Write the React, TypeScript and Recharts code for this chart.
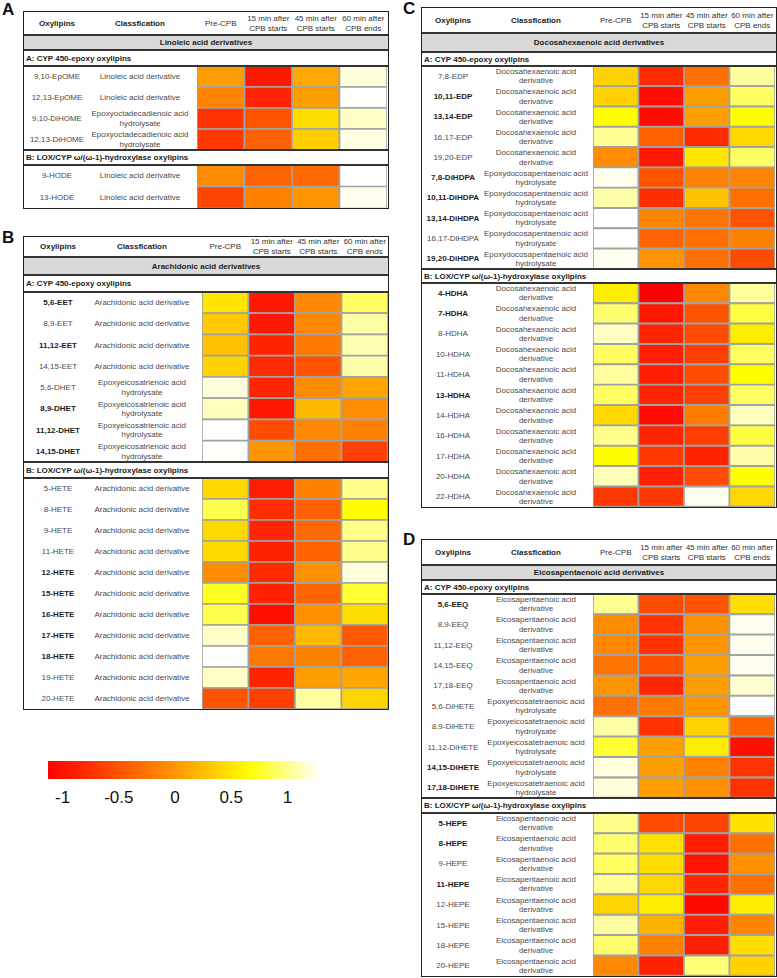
import React from "react";
import { BarChart, Bar, XAxis, YAxis, Cell, ComposedChart, ReferenceArea } from "recharts";

const FONT = "'Liberation Sans', Arial, Helvetica, sans-serif";

// ---------- shared labels ----------
const timepoints = ["Pre-CPB", "15 min after\nCPB starts", "45 min after\nCPB starts", "60 min after\nCPB ends"];
const sectionA = "A: CYP 450-epoxy oxylipins";
const sectionB = "B: LOX/CYP \u03c9/(\u03c9-1)-hydroxylase oxylipins";
const colorbarTicks = [-1, -0.5, 0, 0.5, 1];
const colorbarDomain = [-1.13, 1.29];

// ---------- Panel A: Linoleic acid ----------
const laEpoxyNames = ["9,10-EpOME", "12,13-EpOME", "9,10-DiHOME", "12,13-DiHOME"];
const laEpoxyClass = ["Linoleic acid derivative", "Linoleic acid derivative", "Epoxyoctadecadienoic acid\nhydrolysate", "Epoxyoctadecadienoic acid\nhydrolysate"];
const laEpoxyBold = [false, false, false, false];
const laEpoxyValues = [
  [0.05, -0.95, 0.12, 1.2],
  [-0.12, -0.85, 0.05, 1.29],
  [-0.75, -0.5, 0.45, 1.15],
  [-0.7, -0.4, 0.35, 1.22],
];
const laHydroxyNames = ["9-HODE", "13-HODE"];
const laHydroxyClass = ["Linoleic acid derivative", "Linoleic acid derivative"];
const laHydroxyBold = [false, false];
const laHydroxyValues = [
  [-0.08, -0.37, -0.33, 1.29],
  [-0.6, -0.15, 0.0, 1.25],
];

// ---------- Panel B: Arachidonic acid ----------
const aaEpoxyNames = ["5,6-EET", "8,9-EET", "11,12-EET", "14,15-EET", "5,6-DHET", "8,9-DHET", "11,12-DHET", "14,15-DHET"];
const aaEpoxyClass = [
  "Arachidonic acid derivative", "Arachidonic acid derivative", "Arachidonic acid derivative", "Arachidonic acid derivative",
  "Epoxyeicosatrienoic acid\nhydrolysate", "Epoxyeicosatrienoic acid\nhydrolysate", "Epoxyeicosatrienoic acid\nhydrolysate", "Epoxyeicosatrienoic acid\nhydrolysate",
];
const aaEpoxyBold = [true, false, true, false, false, true, true, true];
const aaEpoxyValues = [
  [0.5, -0.95, -0.1, 0.9],
  [0.32, -0.95, -0.1, 1.07],
  [0.28, -0.85, -0.2, 1.1],
  [0.38, -0.8, -0.5, 1.08],
  [1.2, -0.85, -0.07, 0.1],
  [1.13, -0.95, 0.22, -0.07],
  [1.29, -0.55, -0.1, -0.15],
  [1.28, 0.0, -0.28, -0.65],
];
const aaHydroxyNames = ["5-HETE", "8-HETE", "9-HETE", "11-HETE", "12-HETE", "15-HETE", "16-HETE", "17-HETE", "18-HETE", "19-HETE", "20-HETE"];
const aaHydroxyClass = aaHydroxyNames.map(() => "Arachidonic acid derivative");
const aaHydroxyBold = [false, false, false, false, true, true, true, true, true, false, false];
const aaHydroxyValues = [
  [0.42, -0.9, -0.15, 1.0],
  [0.85, -0.78, -0.4, 0.66],
  [0.42, -0.85, -0.35, 1.0],
  [0.42, -0.88, -0.37, 1.0],
  [-0.07, -0.8, -0.04, 1.2],
  [0.75, -0.88, -0.37, 0.78],
  [0.85, -1.0, -0.04, 0.45],
  [1.15, -0.4, 0.22, -0.45],
  [1.29, -0.22, -0.15, -0.4],
  [1.15, -0.85, 0.05, 0.1],
  [-0.5, -0.65, 1.05, 0.4],
];

// ---------- Panel C: Docosahexaenoic acid ----------
const dhaEpoxyNames = ["7,8-EDP", "10,11-EDP", "13,14-EDP", "16,17-EDP", "19,20-EDP", "7,8-DiHDPA", "10,11-DiHDPA", "13,14-DiHDPA", "16,17-DiHDPA", "19,20-DiHDPA"];
const dhaEpoxyClass = [
  "Docosahexaenoic acid\nderivative", "Docosahexaenoic acid\nderivative", "Docosahexaenoic acid\nderivative", "Docosahexaenoic acid\nderivative", "Docosahexaenoic acid\nderivative",
  "Epoxydocosapentaenoic acid\nhydrolysate", "Epoxydocosapentaenoic acid\nhydrolysate", "Epoxydocosapentaenoic acid\nhydrolysate", "Epoxydocosapentaenoic acid\nhydrolysate", "Epoxydocosapentaenoic acid\nhydrolysate",
];
const dhaEpoxyBold = [false, true, true, false, false, true, true, true, false, true];
const dhaEpoxyValues = [
  [0.38, -0.8, -0.28, 1.05],
  [0.38, -1.02, 0.05, 0.9],
  [0.66, -1.02, 0.05, 0.66],
  [1.02, -0.4, -0.8, 0.42],
  [-0.07, -0.95, 0.52, 0.9],
  [1.25, -0.5, -0.15, -0.12],
  [1.08, -0.78, 0.28, -0.28],
  [1.29, -0.12, -0.25, -0.5],
  [1.28, -0.37, -0.28, -0.15],
  [1.25, -0.02, -0.28, -0.55],
];
const dhaHydroxyNames = ["4-HDHA", "7-HDHA", "8-HDHA", "10-HDHA", "11-HDHA", "13-HDHA", "14-HDHA", "16-HDHA", "17-HDHA", "20-HDHA", "22-HDHA"];
const dhaHydroxyClass = dhaHydroxyNames.map(() => "Docosahexaenoic acid\nderivative");
const dhaHydroxyBold = [true, true, false, false, false, true, false, false, false, false, false];
const dhaHydroxyValues = [
  [0.55, -1.13, -0.1, 1.05],
  [0.93, -0.95, -0.5, 0.82],
  [1.15, -0.85, -0.55, 0.55],
  [0.9, -0.9, -0.65, 0.9],
  [1.05, -0.9, -0.55, 0.66],
  [0.9, -0.85, -0.65, 0.9],
  [0.42, -1.05, -0.18, 1.13],
  [1.0, -0.85, -0.65, 0.82],
  [0.66, -0.7, -0.85, 1.08],
  [1.12, -0.88, -0.55, 0.66],
  [-0.7, -0.7, 1.25, 0.42],
];

// ---------- Panel D: Eicosapentaenoic acid ----------
const epaEpoxyNames = ["5,6-EEQ", "8,9-EEQ", "11,12-EEQ", "14,15-EEQ", "17,18-EEQ", "5,6-DiHETE", "8,9-DiHETE", "11,12-DiHETE", "14,15-DiHETE", "17,18-DiHETE"];
const epaEpoxyClass = [
  "Eicosapentaenoic acid\nderivative", "Eicosapentaenoic acid\nderivative", "Eicosapentaenoic acid\nderivative", "Eicosapentaenoic acid\nderivative", "Eicosapentaenoic acid\nderivative",
  "Epoxyeicosatetraenoic acid\nhydrolysate", "Epoxyeicosatetraenoic acid\nhydrolysate", "Epoxyeicosatetraenoic acid\nhydrolysate", "Epoxyeicosatetraenoic acid\nhydrolysate", "Epoxyeicosatetraenoic acid\nhydrolysate",
];
const epaEpoxyBold = [true, false, false, false, false, false, false, false, true, true];
const epaEpoxyValues = [
  [1.02, -0.55, -0.5, 0.45],
  [-0.07, -0.75, -0.03, 1.25],
  [-0.1, -0.75, -0.02, 1.25],
  [-0.25, -0.52, 0.05, 1.25],
  [-0.02, -0.85, 0.05, 1.18],
  [-0.28, -0.22, -0.02, 1.29],
  [1.07, -0.75, 0.38, -0.37],
  [0.78, 0.05, 0.55, -1.0],
  [1.2, 0.05, -0.15, -0.75],
  [1.2, 0.05, -0.04, -0.75],
];
const epaHydroxyNames = ["5-HEPE", "8-HEPE", "9-HEPE", "11-HEPE", "12-HEPE", "15-HEPE", "18-HEPE", "20-HEPE"];
const epaHydroxyClass = epaHydroxyNames.map(() => "Eicosapentaenoic acid\nderivative");
const epaHydroxyBold = [true, true, false, true, false, false, false, false];
const epaHydroxyValues = [
  [1.0, -0.55, -0.6, 0.48],
  [0.93, 0.48, -0.9, -0.28],
  [0.9, 0.45, -0.98, -0.04],
  [1.02, 0.42, -0.85, -0.28],
  [0.4, 0.55, -1.07, 0.55],
  [1.06, 0.17, -0.9, -0.12],
  [0.93, -0.15, -0.9, 0.45],
  [-0.1, -0.88, 0.95, 0.38],
];

// ---------- colour scale ----------
const colorStops: [number, number[]][] = [
  [-1.13, [255, 0, 0]],
  [-0.4, [255, 96, 0]],
  [-0.04, [255, 144, 0]],
  [0.32, [255, 200, 0]],
  [0.66, [255, 255, 0]],
  [1.29, [255, 255, 255]],
];

function heatColor(v: number): string {
  if (v <= colorStops[0][0]) return `rgb(${colorStops[0][1].join(",")})`;
  for (let i = 1; i < colorStops.length; i++) {
    const [v1, c1] = colorStops[i];
    const [v0, c0] = colorStops[i - 1];
    if (v <= v1) {
      const t = (v - v0) / (v1 - v0);
      const c = c0.map((a, k) => Math.round(a + (c1[k] - a) * t));
      return `rgb(${c.join(",")})`;
    }
  }
  return "rgb(255,255,255)";
}

type Block = { names: string[]; cls: string[]; bold: boolean[]; values: number[][] };

function HeatBlock({ block, width, height, cellStart, nameX, clsX }: { block: Block; width: number; height: number; cellStart: number; nameX: number; clsX: number }) {
  const data = block.names.map((n) => ({ name: n, u0: 1, u1: 1, u2: 1, u3: 1 }));
  const renderTick = (p: any) => {
    const i = block.names.indexOf(p.payload.value);
    if (i < 0) return <g />;
    const lines = block.cls[i].split("\n");
    const bold = block.bold[i];
    return (
      <g>
        <text x={nameX} y={p.y} textAnchor="middle" dominantBaseline="central" fontSize={8} fontWeight={bold ? 700 : 400} fill={bold ? "#1c1c1c" : "#4a4a4a"} fontFamily={FONT}>
          {block.names[i]}
        </text>
        {lines.map((l, k) => (
          <text key={k} x={clsX} y={p.y + (k - (lines.length - 1) / 2) * 9.3} textAnchor="middle" dominantBaseline="central" fontSize={8} fill="#4a4a4a" fontFamily={FONT}>
            {l}
          </text>
        ))}
      </g>
    );
  };
  return (
    <BarChart layout="vertical" width={width} height={height} data={data} margin={{ top: 0, right: 0, bottom: 0, left: 0 }} barCategoryGap={0} barGap={0}>
      <XAxis type="number" domain={[0, 4]} hide allowDataOverflow />
      <YAxis type="category" dataKey="name" width={cellStart} axisLine={false} tickLine={false} tick={renderTick} interval={0} />
      {[0, 1, 2, 3].map((j) => (
        <Bar key={j} dataKey={`u${j}`} stackId="s" isAnimationActive={false}>
          {block.values.map((row, i) => (
            <Cell key={i} fill={heatColor(row[j])} stroke="#a2a2a2" strokeWidth={1.6} />
          ))}
        </Bar>
      ))}
    </BarChart>
  );
}

type PanelSpec = {
  letter: string;
  letterX: number;
  letterY: number;
  left: number;
  top: number;
  width: number;
  title: string;
  cellStart: number;
  cellEnd: number;
  nameX: number;
  clsX: number;
  h: { header: number; gray: number; secA: number; blockA: number; secB: number; blockB: number };
  blockA: Block;
  blockB: Block;
};

function Panel({ s }: { s: PanelSpec }) {
  const yGray = s.h.header;
  const ySecA = yGray + s.h.gray;
  const yBlockA = ySecA + s.h.secA;
  const ySecB = yBlockA + s.h.blockA;
  const yBlockB = ySecB + s.h.secB;
  const total = yBlockB + s.h.blockB;
  const cw = (s.cellEnd - s.cellStart) / 4;
  const line = (y: number, k: string) => (
    <div key={k} style={{ position: "absolute", left: 0, top: y - 0.7, width: s.width, height: 1.4, background: "#333" }} />
  );
  const hdrText: React.CSSProperties = { position: "absolute", fontSize: 8, lineHeight: "10px", textAlign: "center", color: "#333", whiteSpace: "pre" };
  return (
    <>
      <div style={{ position: "absolute", left: s.letterX, top: s.letterY, fontFamily: FONT, fontWeight: 700, fontSize: 17, lineHeight: "17px", color: "#111" }}>{s.letter}</div>
      <div style={{ position: "absolute", left: s.left, top: s.top, width: s.width, height: total, fontFamily: FONT, background: "#fff" }}>
        {/* header */}
        <div style={{ ...hdrText, left: s.nameX - 40, width: 80, top: yGray / 2 - 5, fontWeight: 700, color: "#1c1c1c" }}>Oxylipins</div>
        <div style={{ ...hdrText, left: s.clsX - 50, width: 100, top: yGray / 2 - 5, fontWeight: 700, color: "#1c1c1c" }}>Classfication</div>
        {timepoints.map((t, j) => {
          const n = t.split("\n").length;
          return (
            <div key={j} style={{ ...hdrText, left: s.cellStart + cw * j + cw / 2 - 30, width: 60, top: yGray / 2 - 5 * n }}>{t}</div>
          );
        })}
        {/* gray title row */}
        <div style={{ position: "absolute", left: 0, top: yGray, width: s.width, height: s.h.gray, background: "#d9d9d9", display: "flex", alignItems: "center", justifyContent: "center", fontSize: 8, fontWeight: 700, color: "#1c1c1c" }}>{s.title}</div>
        {/* section rows */}
        <div style={{ position: "absolute", left: 2, top: ySecA, height: s.h.secA, display: "flex", alignItems: "center", fontSize: 8, fontWeight: 700, color: "#1c1c1c", whiteSpace: "nowrap" }}>{sectionA}</div>
        <div style={{ position: "absolute", left: 2, top: ySecB, height: s.h.secB, display: "flex", alignItems: "center", fontSize: 8, fontWeight: 700, color: "#1c1c1c", whiteSpace: "nowrap" }}>{sectionB}</div>
        {/* data blocks */}
        <div style={{ position: "absolute", left: 0, top: yBlockA }}>
          <HeatBlock block={s.blockA} width={s.cellEnd} height={s.h.blockA} cellStart={s.cellStart} nameX={s.nameX} clsX={s.clsX} />
        </div>
        <div style={{ position: "absolute", left: 0, top: yBlockB }}>
          <HeatBlock block={s.blockB} width={s.cellEnd} height={s.h.blockB} cellStart={s.cellStart} nameX={s.nameX} clsX={s.clsX} />
        </div>
        {line(yGray, "l1")}
        {line(ySecA, "l2")}
        {line(yBlockA, "l3")}
        {line(ySecB, "l4")}
        {line(yBlockB, "l5")}
        <div style={{ position: "absolute", left: -0.8, top: -0.8, width: s.width + 1.6, height: total + 1.6, border: "1.6px solid #222", boxSizing: "border-box", pointerEvents: "none" }} />
      </div>
    </>
  );
}

const panels: PanelSpec[] = [
  {
    letter: "A", letterX: 2, letterY: 1, left: 24, top: 12, width: 364, title: "Linoleic acid derivatives",
    cellStart: 173, cellEnd: 363, nameX: 33, clsX: 116,
    h: { header: 23, gray: 15, secA: 16, blockA: 84, secB: 15, blockB: 43 },
    blockA: { names: laEpoxyNames, cls: laEpoxyClass, bold: laEpoxyBold, values: laEpoxyValues },
    blockB: { names: laHydroxyNames, cls: laHydroxyClass, bold: laHydroxyBold, values: laHydroxyValues },
  },
  {
    letter: "B", letterX: 2, letterY: 229, left: 24, top: 237, width: 364, title: "Arachidonic acid derivatives",
    cellStart: 178, cellEnd: 364, nameX: 34, clsX: 118,
    h: { header: 20, gray: 18, secA: 17, blockA: 170, secB: 16, blockB: 231 },
    blockA: { names: aaEpoxyNames, cls: aaEpoxyClass, bold: aaEpoxyBold, values: aaEpoxyValues },
    blockB: { names: aaHydroxyNames, cls: aaHydroxyClass, bold: aaHydroxyBold, values: aaHydroxyValues },
  },
  {
    letter: "C", letterX: 403, letterY: 0, left: 422, top: 8, width: 354, title: "Docosahexaenoic acid derivatives",
    cellStart: 171, cellEnd: 353, nameX: 31, clsX: 114,
    h: { header: 25, gray: 19, secA: 14, blockA: 203, secB: 14, blockB: 224 },
    blockA: { names: dhaEpoxyNames, cls: dhaEpoxyClass, bold: dhaEpoxyBold, values: dhaEpoxyValues },
    blockB: { names: dhaHydroxyNames, cls: dhaHydroxyClass, bold: dhaHydroxyBold, values: dhaHydroxyValues },
  },
  {
    letter: "D", letterX: 403, letterY: 531, left: 422, top: 540, width: 354, title: "Eicosapentaenoic acid derivatives",
    cellStart: 171, cellEnd: 353, nameX: 31, clsX: 114,
    h: { header: 25, gray: 15, secA: 14, blockA: 204, secB: 15, blockB: 163 },
    blockA: { names: epaEpoxyNames, cls: epaEpoxyClass, bold: epaEpoxyBold, values: epaEpoxyValues },
    blockB: { names: epaHydroxyNames, cls: epaHydroxyClass, bold: epaHydroxyBold, values: epaHydroxyValues },
  },
];

function ColorBar() {
  const [d0, d1] = colorbarDomain;
  return (
    <div style={{ position: "absolute", left: 48, top: 761 }}>
      <ComposedChart width={272} height={50} data={[{ x: 0 }]} margin={{ top: 0, right: 0, bottom: 0, left: 0 }}>
        <defs>
          <linearGradient id="cbGrad" x1="0" y1="0" x2="1" y2="0">
            {colorStops.map(([v, c], i) => (
              <stop key={i} offset={(v - d0) / (d1 - d0)} stopColor={`rgb(${c.join(",")})`} />
            ))}
          </linearGradient>
        </defs>
        <XAxis type="number" dataKey="x" domain={colorbarDomain} ticks={colorbarTicks} axisLine={false} tickLine={false} height={32} interval={0}
          tick={{ fontSize: 17, fill: "#111", fontFamily: FONT }} tickMargin={6} allowDataOverflow />
        <YAxis type="number" domain={[0, 1]} hide />
        <ReferenceArea x1={d0} x2={d1} y1={0} y2={1} fill="url(#cbGrad)" fillOpacity={1} stroke="none" ifOverflow="extendDomain" />
      </ComposedChart>
    </div>
  );
}

export default function App() {
  return (
    <div style={{ position: "absolute", left: 0, top: 0, width: 777, height: 978, overflow: "hidden", background: "#fff", fontFamily: FONT }}>
      {panels.map((p) => (
        <Panel key={p.letter} s={p} />
      ))}
      <ColorBar />
    </div>
  );
}
